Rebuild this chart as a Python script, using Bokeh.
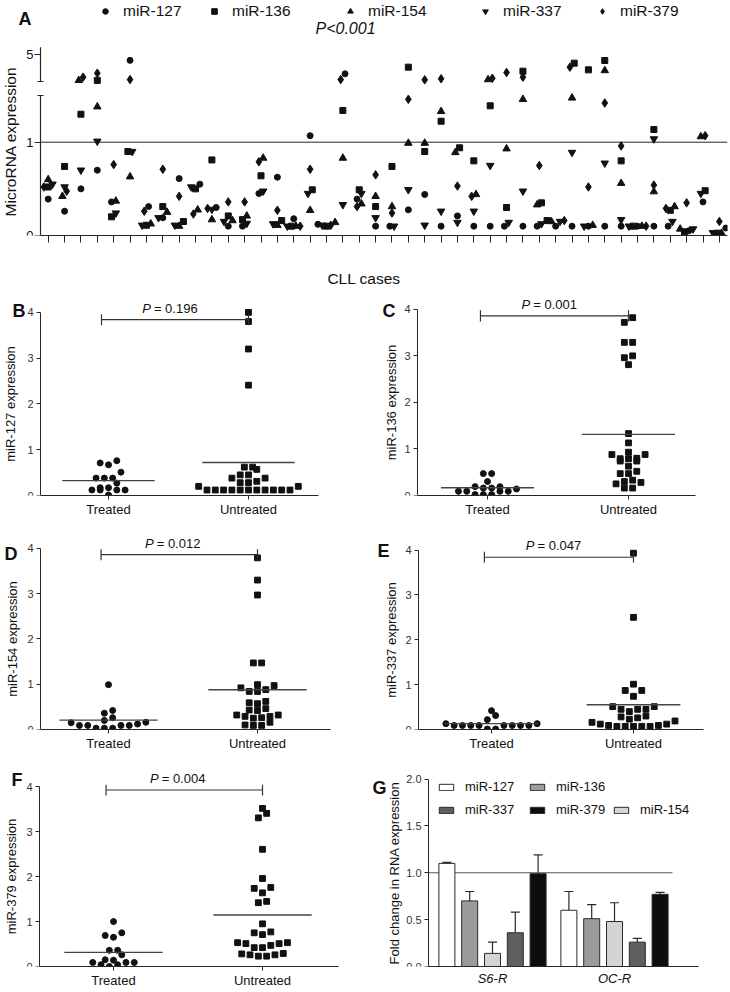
import numpy as np
from bokeh.plotting import figure
from bokeh.models import (FixedTicker, Label, Legend, LegendItem, Whisker, CustomLabelingPolicy,
                          ColumnDataSource, TeeHead, Range1d, NumeralTickFormatter,
                          CustomJSTickFormatter)
from bokeh.layouts import column, row
from bokeh.embed import file_html
from bokeh.resources import INLINE

FONT = "Liberation Sans"
INK = "#111111"
AXC = "#262626"
SX = 1.0
SY = 0.998

# ---------------- Panel A: five miRNAs in 42 CLL cases ----------------
mir_names = ["miR-127", "miR-136", "miR-154", "miR-337", "miR-379"]
mir_markers = ["circle", "square", "triangle", "inverted_triangle", "diamond"]
mir_sizes = [6, 6, 7.5, 7.5, 8.5]
a_mir127 = [0.39, 0.26, 0.50, 0.70, 0.36, 4.78, 0.31, 0.19, 0.61, 0.55, 0.30, 0.10, 0.10, 0.45,
            0.625, 0.18, 1.07, 0.12, 4.275, 0.39, 0.10, 0.10, 0.275, 0.44, 0.10, 0.21, 0.10, 0.10,
            0.10, 0.10, 0.10, 0.10, 0.10, 0.10, 0.10, 0.10, 0.10, 0.10, 0.10, 0.05, 0.36, 0.08]
a_mir136 = [0.52, 0.74, 1.30, 4.03, 0.20, 0.90, 0.11, 0.31, 0.15, 0.50, 0.81, 0.21, 0.17, 0.64,
            0.16, 0.10, 0.49, 0.10, 1.34, 0.49, 0.31, 0.74, 4.525, 0.90, 1.225, 0.94, 0.80, 1.39,
            0.30, 4.375, 0.35, 0.16, 4.675, 4.425, 4.775, 0.80, 0.10, 1.136, 0.27, 0.04, 0.48, 0.025]
a_mir154 = [0.60, 0.42, 4.03, 1.38, 0.37, 0.63, 0.125, 0.25, 0.10, 0.275, 0.17, 0.16, 0.21, 0.83,
            0.11, 0.10, 0.27, 0.14, 0.83, 0.34, 0.42, 0.31, 0.99, 0.99, 1.33, 0.89, 0.44, 4.06,
            0.93, 1.46, 0.33, 0.15, 1.475, 0.11, 4.40, 0.56, 0.10, 0.47, 0.31, 0.07, 1.06, 0.025]
a_mir337 = [0.55, 0.52, 0.70, 1.01, 0.24, 0.90, 0.11, 0.19, 0.11, 0.52, 0.28, 0.15, 0.13, 0.475,
            0.125, 0.10, 0.45, 0.11, 0.33, 0.45, 0.19, 0.10, 0.49, 0.11, 0.26, 0.14, 0.26, 0.75,
            0.14, 0.475, 0.125, 0.15, 0.89, 0.10, 0.775, 0.17, 0.10, 1.035, 0.15, 0.07, 0.45, 0.03]
a_mir379 = [0.52, 0.475, 4.15, 4.30, 0.76, 4.06, 0.26, 0.71, 0.42, 0.23, 0.29, 0.36, 0.36, 0.79,
            0.27, 0.10, 0.71, 0.11, 4.06, 0.31, 0.65, 0.24, 1.46, 4.05, 4.09, 0.53, 0.42, 4.11,
            4.325, 4.15, 0.75, 0.16, 4.525, 0.52, 1.42, 0.96, 0.10, 0.54, 0.29, 0.35, 1.07, 0.15]
a_series = [a_mir127, a_mir136, a_mir154, a_mir337, a_mir379]
a_pvalue = "P<0.001"

# ---------------- Panels B-F: treated vs untreated ----------------
b_treated = [0.76, 0.71, 0.67, 0.51, 0.38, 0.38, 0.38, 0.27, 0.17, 0.17, 0.12, 0.12, 0.12, 0.12, 0.01]
b_untreated = [4.00, 3.80, 3.20, 2.41, 0.62, 0.62, 0.57, 0.45, 0.45, 0.38, 0.38, 0.31, 0.28, 0.28,
               0.20, 0.20, 0.12, 0.12, 0.12, 0.12, 0.12, 0.12, 0.12, 0.12, 0.12, 0.12, 0.12]
c_treated = [0.47, 0.47, 0.30, 0.19, 0.19, 0.16, 0.16, 0.14, 0.09, 0.09, 0.09, 0.09, 0.02, 0.02, 0.02]
c_untreated = [3.82, 3.72, 3.29, 3.29, 3.00, 2.96, 2.81, 1.33, 1.13, 0.93, 0.88, 0.88, 0.80, 0.79,
               0.79, 0.74, 0.74, 0.63, 0.52, 0.47, 0.47, 0.33, 0.30, 0.28, 0.25, 0.16, 0.16]
d_treated = [0.99, 0.42, 0.36, 0.26, 0.20, 0.16, 0.15, 0.12, 0.09, 0.09, 0.09, 0.09, 0.03, 0.03, 0.03]
d_untreated = [3.79, 3.30, 2.97, 1.47, 1.47, 0.99, 0.97, 0.92, 0.88, 0.84, 0.84, 0.62, 0.59, 0.57,
               0.46, 0.43, 0.42, 0.32, 0.32, 0.29, 0.29, 0.26, 0.25, 0.16, 0.10, 0.09, 0.09]
e_treated = [0.42, 0.31, 0.22, 0.13, 0.13, 0.09, 0.09, 0.09, 0.09, 0.09, 0.09, 0.09, 0.09, 0.01, 0.01]
e_untreated = [3.93, 2.50, 1.01, 0.87, 0.87, 0.74, 0.51, 0.51, 0.45, 0.45, 0.45, 0.40, 0.30, 0.28,
               0.26, 0.23, 0.19, 0.16, 0.12, 0.12, 0.09, 0.09, 0.07, 0.07, 0.07, 0.07, 0.07]
f_treated = [1.00, 0.75, 0.69, 0.65, 0.36, 0.36, 0.26, 0.15, 0.14, 0.09, 0.09, 0.09, 0.04, 0.04, 0.00]
f_untreated = [3.52, 3.41, 3.31, 2.61, 1.96, 1.76, 1.74, 1.64, 1.45, 1.42, 0.95, 0.77, 0.75, 0.71,
               0.53, 0.53, 0.51, 0.51, 0.47, 0.42, 0.42, 0.29, 0.28, 0.26, 0.26, 0.23, 0.23]
group_labels = ["Treated", "Untreated"]

# ---------------- Panel G: fold change ----------------
g_groups = ["S6-R", "OC-R"]
g_mirs = ["miR-127", "miR-136", "miR-154", "miR-337", "miR-379"]
g_s6r = [1.10, 0.70, 0.14, 0.36, 0.99]
g_s6r_err = [0.01, 0.10, 0.12, 0.22, 0.20]
g_ocr = [0.60, 0.51, 0.48, 0.26, 0.77]
g_ocr_err = [0.20, 0.15, 0.20, 0.04, 0.02]
g_colors = ["#ffffff", "#9b9b9b", "#d4d4d4", "#5f5f5f", "#0d0d0d"]


def out_x(v):
    return int(round(v * SX))


def out_y(v):
    return int(round(v * SY))


def make_fig(fig_left, fig_right, row_top, row_bot, end_x, frame_bot, xr, yr):
    """Frame starts at the figure's left/top edge; the y axis is drawn at a fixed location."""
    fw = out_x(fig_right) - out_x(fig_left)
    fh = out_y(row_bot) - out_y(row_top)
    frame_w = out_x(end_x) - out_x(fig_left)
    frame_h = out_y(frame_bot) - out_y(row_top)
    p = figure(width=fw, height=fh, x_range=xr, y_range=yr, output_backend="svg",
               toolbar_location=None, title=None,
               min_border_left=0, min_border_right=fw - frame_w,
               min_border_top=0, min_border_bottom=fh - frame_h)
    p.outline_line_color = None
    p.grid.visible = False
    return p


def style_axis(ax, tick_px, label_px, tick_color="#333333"):
    ax.axis_line_color = AXC
    ax.major_tick_line_color = AXC
    ax.minor_tick_line_color = None
    ax.major_label_text_font = FONT
    ax.major_label_text_font_size = f"{tick_px}px"
    ax.major_label_text_color = tick_color
    ax.axis_label_text_font = FONT
    ax.axis_label_text_font_size = f"{label_px}px"
    ax.axis_label_text_font_style = "normal"
    ax.axis_label_text_color = INK


def swarm(vals, row_h):
    vals = np.asarray(vals, float)
    order = np.argsort(vals, kind="stable")
    offs = np.zeros(len(vals))
    i = 0
    n_all = len(order)
    while i < n_all:
        start = vals[order[i]]
        j = i
        while j < n_all and vals[order[j]] - start < row_h:
            j += 1
        members = order[i:j]
        n = len(members)
        slots = sorted([k - (n - 1) / 2 for k in range(n)], key=lambda s: (abs(s), s))
        for m, s in zip(members, slots):
            offs[m] = s
        i = j
    return offs


def letter(p, text, x, y):
    p.add_layout(Label(x=x, y=y, text=text, text_font=FONT, text_font_style="bold",
                       text_font_size="18px", text_color=INK, text_align="left",
                       text_baseline="alphabetic"))


# ======================= Panel A =======================
A_TICK0, A_STEP, A_Y0, A_PPY = 47.7, 16.37, 235.0, 93.3
LOW_TOP, UP_V, UP_D, UP_K = 1.5, 4.0, 1.654, 0.286
AX_TOP_D = 2.018


def disp(v):
    return v if v <= LOW_TOP else UP_D + (v - UP_V) * UP_K


D5 = disp(5.0)
xa_fig = (0 - A_TICK0) / A_STEP
xa_axis = (40 - A_TICK0) / A_STEP
xa1 = (727 - A_TICK0) / A_STEP
ya1 = A_Y0 / A_PPY
pA = make_fig(0, 730, 0, 290, 727, 235, Range1d(xa_fig, xa1), Range1d(0, ya1))

n_cases = len(a_mir127)
disp_vals = np.array([[disp(s[i]) for s in a_series] for i in range(n_cases)])
slot_a = 4.3 / A_STEP
row_a = 6.0 / A_PPY
x_off = np.array([swarm(disp_vals[i], row_a) * slot_a for i in range(n_cases)])

# reference line at 1 and broken y-axis line
pA.segment(x0=[xa_axis], y0=[1.0], x1=[xa1], y1=[1.0], line_color=AXC, line_width=1)
pA.segment(x0=[xa_axis, xa_axis], y0=[0, UP_D], x1=[xa_axis, xa_axis], y1=[LOW_TOP, AX_TOP_D],
           line_color=AXC, line_width=1.2)

renderers_a = []
for k, (name, mk, sz) in enumerate(zip(mir_names, mir_markers, mir_sizes)):
    src = ColumnDataSource(dict(x=np.arange(n_cases) + x_off[:, k], y=disp_vals[:, k]))
    r = pA.scatter("x", "y", source=src, marker=mk, size=sz, fill_color=INK, line_color=INK)
    renderers_a.append(r)

style_axis(pA.yaxis[0], 13, 15.5, tick_color=INK)
pA.yaxis.fixed_location = xa_axis
pA.yaxis.axis_line_color = None
pA.yaxis.bounds = (0, AX_TOP_D)
pA.yaxis.ticker = FixedTicker(ticks=[0, 1, D5], minor_ticks=[LOW_TOP, UP_D])
pA.yaxis.major_label_overrides = {0: "0", 1: "1", D5: "5"}
pA.yaxis.major_tick_out = 6
pA.yaxis.major_tick_in = 0
pA.yaxis.minor_tick_line_color = AXC
pA.yaxis.minor_tick_out = 3
pA.yaxis.minor_tick_in = 3
pA.yaxis.major_label_standoff = 1
pA.yaxis.axis_label_standoff = 4
pA.yaxis.axis_label = "MicroRNA expression"

style_axis(pA.xaxis[0], 12, 15.5)
pA.xaxis.bounds = (xa_axis, xa1)
pA.xaxis.ticker = FixedTicker(ticks=list(range(n_cases)))
pA.xaxis.formatter = CustomJSTickFormatter(code="return ''")
pA.xaxis.major_label_policy = CustomLabelingPolicy(code="return []")
pA.xaxis.major_tick_out = 7
pA.xaxis.major_tick_in = 0
pA.xaxis.major_label_standoff = 0
pA.xaxis.axis_label_standoff = 27
pA.xaxis.axis_label = "CLL cases"

legend_x_ref = [105, 214, 350, 485, 602]
for r, name, cx in zip(renderers_a, mir_names, legend_x_ref):
    leg = Legend(items=[LegendItem(label=name, renderers=[r])],
                 location=((cx - 7) * SX, (235 - 20) * SY),
                 orientation="horizontal", glyph_width=14, glyph_height=14, label_standoff=11,
                 label_height=18, label_text_font=FONT, label_text_font_size="15.5px",
                 label_text_color=INK, padding=0, margin=0, spacing=0,
                 border_line_color=None, background_fill_alpha=0)
    pA.add_layout(leg)

pA.add_layout(Label(x=(345 - A_TICK0) / A_STEP, y=(A_Y0 - 36) / A_PPY, text=a_pvalue,
                    text_font=FONT, text_font_style="italic", text_font_size="16px",
                    text_color=INK, text_align="center"))
letter(pA, "A", (18 - A_TICK0) / A_STEP, (A_Y0 - 18) / A_PPY)


# ======================= Panels B-F =======================
def dot_panel(cfg, treated, untreated):
    ppx = cfg["u"] - cfg["t"]
    ppy = (cfg["y0"] - cfg["y4"]) / 4.0
    x_fig = (cfg["fig_left"] - cfg["t"]) / ppx
    x_axis = (cfg["axis_x"] - cfg["t"]) / ppx
    x1 = (cfg["end_x"] - cfg["t"]) / ppx
    y1 = (cfg["y0"] - cfg["row_top"]) / ppy
    p = make_fig(cfg["fig_left"], cfg["fig_right"], cfg["row_top"], cfg["row_bot"],
                 cfg["end_x"], cfg["y0"], Range1d(x_fig, x1), Range1d(0, y1))
    slot = 8.3 / ppx
    row_h = 6.0 / ppy
    xt = swarm(treated, row_h) * slot
    xu = 1 + swarm(untreated, row_h) * slot
    p.scatter(xt, treated, marker="circle", size=6, fill_color=INK, line_color=INK)
    p.scatter(xu, untreated, marker="square", size=5.8, fill_color=INK, line_color=INK)
    means = [float(np.mean(treated)), float(np.mean(untreated))]
    p.segment(x0=[g - 0.33 for g in (0, 1)], y0=means, x1=[g + 0.33 for g in (0, 1)], y1=means,
              line_color="#444444", line_width=1.4)
    by = cfg["bracket"]
    bl = -0.05
    p.segment(x0=[bl, bl, 1.0], y0=[by, by - 0.12, by - 0.12], x1=[1.0, bl, 1.0],
              y1=[by, by + 0.12, by + 0.12], line_color="#333333", line_width=1.2)
    p.add_layout(Label(x=0.31, y=by, x_offset=-1, y_offset=4, text="P", text_align="right",
                       text_font=FONT, text_font_style="italic", text_font_size="13px",
                       text_color=INK))
    p.add_layout(Label(x=0.31, y=by, x_offset=2, y_offset=4, text="= " + cfg["p"],
                       text_align="left", text_font=FONT, text_font_size="13px", text_color=INK))
    style_axis(p.yaxis[0], 11, 13)
    p.yaxis.fixed_location = x_axis
    p.yaxis.bounds = (0, 4)
    p.yaxis.ticker = FixedTicker(ticks=[0, 1, 2, 3, 4])
    p.yaxis.major_tick_out = 4
    p.yaxis.major_tick_in = 0
    p.yaxis.major_label_standoff = 3
    p.yaxis.axis_label_standoff = cfg["lab_off"]
    p.yaxis.axis_label = cfg["ylabel"]
    style_axis(p.xaxis[0], 13, 13, tick_color=INK)
    p.xaxis.bounds = (x_axis, x1)
    p.xaxis.ticker = FixedTicker(ticks=[0, 1])
    p.xaxis.major_label_overrides = {0: group_labels[0], 1: group_labels[1]}
    p.xaxis.major_tick_out = 4
    p.xaxis.major_tick_in = 0
    p.xaxis.major_label_standoff = 2
    letter(p, cfg["letter"], (cfg["lx"] - cfg["t"]) / ppx, (cfg["y0"] - cfg["lb"]) / ppy)
    return p


cfgB = dict(fig_left=0, fig_right=365, row_top=290, row_bot=520, axis_x=40, end_x=318, t=108, u=248,
            y0=497, y4=313, letter="B", lx=12, lb=312, bracket=3.84, lab_off=6,
            ylabel="miR-127 expression", p="0.196")
cfgC = dict(fig_left=365, fig_right=730, row_top=290, row_bot=520, axis_x=417, end_x=695, t=487, u=628,
            y0=498, y4=310, letter="C", lx=382, lb=312, bracket=3.86, lab_off=2,
            ylabel="miR-136 expression", p="0.001")
cfgD = dict(fig_left=0, fig_right=365, row_top=520, row_bot=755, axis_x=40, end_x=330, t=108, u=257,
            y0=731, y4=549, letter="D", lx=4, lb=555, bracket=3.86, lab_off=4,
            ylabel="miR-154 expression", p="0.012")
cfgE = dict(fig_left=365, fig_right=730, row_top=520, row_bot=755, axis_x=418, end_x=703, t=491, u=633,
            y0=733, y4=551, letter="E", lx=377, lb=552, bracket=3.84, lab_off=3,
            ylabel="miR-337 expression", p="0.047")
cfgF = dict(fig_left=0, fig_right=365, row_top=755, row_bot=992, axis_x=39, end_x=338, t=113, u=262,
            y0=972, y4=789, letter="F", lx=11, lb=782, bracket=3.93, lab_off=4,
            ylabel="miR-379 expression", p="0.004")

pB = dot_panel(cfgB, b_treated, b_untreated)
pC = dot_panel(cfgC, c_treated, c_untreated)
pD = dot_panel(cfgD, d_treated, d_untreated)
pE = dot_panel(cfgE, e_treated, e_untreated)
pF = dot_panel(cfgF, f_treated, f_untreated)

# ======================= Panel G =======================
G = dict(fig_left=365, fig_right=730, row_top=755, row_bot=992, axis_x=428, end_x=698,
         g0=492, g1=614, y0=972, y2=781)
gppx = G["g1"] - G["g0"]
gppy = (G["y0"] - G["y2"]) / 2.0
gx_fig = (G["fig_left"] - G["g0"]) / gppx
gx_axis = (G["axis_x"] - G["g0"]) / gppx
gx1 = (G["end_x"] - G["g0"]) / gppx
gy1 = (G["y0"] - G["row_top"]) / gppy
pG = make_fig(G["fig_left"], G["fig_right"], G["row_top"], G["row_bot"], G["end_x"], G["y0"],
              Range1d(gx_fig, gx1), Range1d(0, gy1))
step = 22.8 / gppx
bw = 16.0 / gppx
pG.segment(x0=[gx_axis], y0=[1.0], x1=[(672 - G["g0"]) / gppx], y1=[1.0], line_color="#555555",
           line_width=1)
g_rend = {}
for i, name in enumerate(g_mirs):
    xs = [k + (i - 2) * step for k in range(len(g_groups))]
    tops = [g_s6r[i], g_ocr[i]]
    errs = [g_s6r_err[i], g_ocr_err[i]]
    src = ColumnDataSource(dict(x=xs, top=tops, upper=[t + e for t, e in zip(tops, errs)]))
    r = pG.vbar(x="x", top="top", width=bw, source=src, fill_color=g_colors[i],
                line_color="#2a2a2a", line_width=1)
    pG.add_layout(Whisker(source=src, base="x", lower="top", upper="upper",
                          upper_head=TeeHead(size=9, line_color="#2a2a2a", line_width=1.2),
                          lower_head=None, line_color="#2a2a2a", line_width=1.2))
    g_rend[name] = r

g_leg_pos = {"miR-127": (437, 793), "miR-136": (528, 793), "miR-337": (437, 816),
             "miR-379": (528, 816), "miR-154": (612, 816)}
for name, (bx, cy) in g_leg_pos.items():
    pG.add_layout(Legend(items=[LegendItem(label=name, renderers=[g_rend[name]])],
                         location=((bx - G["fig_left"]) * SX, (G["y0"] - cy - 7) * SY),
                         orientation="horizontal", glyph_width=18, glyph_height=8,
                         label_standoff=10, label_height=14, label_text_font=FONT,
                         label_text_font_size="13px", label_text_color=INK, padding=0,
                         margin=0, spacing=0, border_line_color=None, background_fill_alpha=0))

style_axis(pG.yaxis[0], 11, 13)
pG.yaxis.fixed_location = gx_axis
pG.yaxis.bounds = (0, 2)
pG.yaxis.ticker = FixedTicker(ticks=[0, 0.5, 1.0, 1.5, 2.0])
pG.yaxis.formatter = NumeralTickFormatter(format="0.0")
pG.yaxis.major_tick_out = 4
pG.yaxis.major_tick_in = 0
pG.yaxis.major_label_standoff = 3
pG.yaxis.axis_label_standoff = 1
pG.yaxis.axis_label = "Fold change in RNA expression"
style_axis(pG.xaxis[0], 13, 13, tick_color=INK)
pG.xaxis.bounds = (gx_axis, gx1)
pG.xaxis.ticker = FixedTicker(ticks=[0, 1])
pG.xaxis.major_label_overrides = {0: g_groups[0], 1: g_groups[1]}
pG.xaxis.major_label_text_font_style = "italic"
pG.xaxis.major_tick_out = 0
pG.xaxis.major_tick_in = 0
pG.xaxis.major_label_standoff = 4
letter(pG, "G", (372 - G["g0"]) / gppx, (G["y0"] - 790) / gppy)

layout = column(pA, row(pB, pC), row(pD, pE), row(pF, pG))
open("out.html", "w").write(file_html(layout, INLINE, title="CLL microRNA expression"))
